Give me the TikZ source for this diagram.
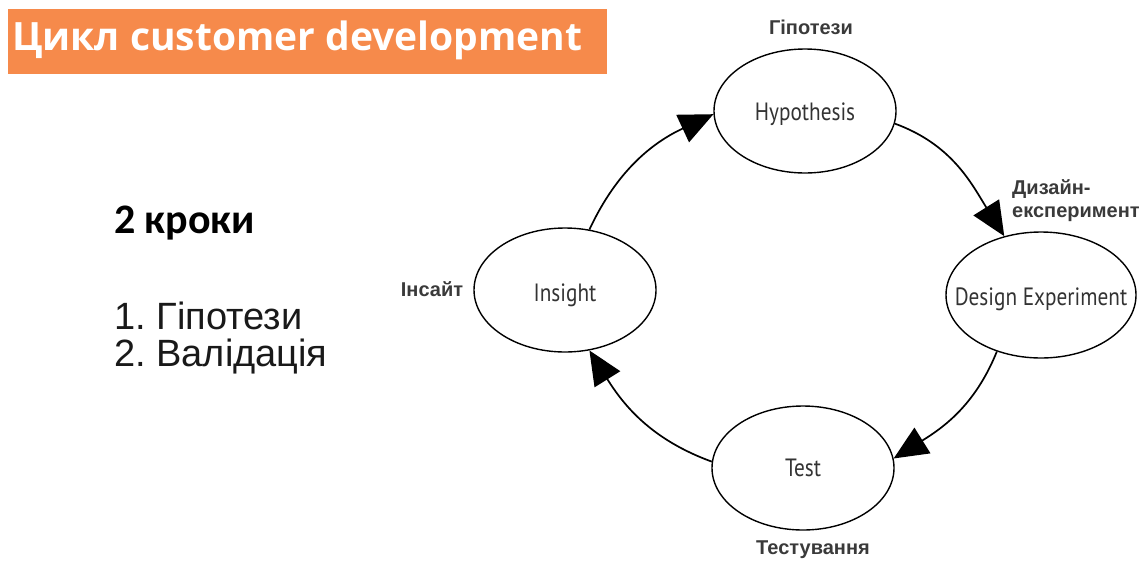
\documentclass[tikz,border=0pt]{standalone}
\usepackage{fontspec}
\usetikzlibrary{shapes.geometric,arrows.meta}
\setmainfont{Liberation Sans}
\newfontfamily\titlefont{Open Sans}
\newfontfamily\labelfont{Liberation Sans}
\newfontfamily\stepfont{Carlito}
\newfontfamily\ellfont[FakeStretch=0.85]{PT Sans}
\definecolor{barorange}{HTML}{F68A4B}
\definecolor{labgray}{HTML}{3A3A3A}
\definecolor{elltext}{HTML}{333333}
\tikzset{
  cyc/.style={ellipse, draw=black, line width=1.4pt, inner sep=0pt,
    minimum width=182pt, minimum height=124pt},
  cyctext/.style={font=\ellfont\fontsize{25}{27}\selectfont, text=elltext, inner sep=0pt},
  lab/.style={font=\labelfont\bfseries\fontsize{20}{23}\selectfont, text=labgray, inner sep=0pt},
  flow/.style={line width=1.7pt, -{Triangle[length=34pt,width=30pt]}}
}
\begin{document}
\begin{tikzpicture}[x=1pt,y=1pt]
\useasboundingbox[fill=white] (0,0) rectangle (1145,-563);
% title bar
\node[fill=barorange, minimum width=599pt, minimum height=65pt, inner sep=0pt, anchor=north west] (bar) at (8,-9) {};
\node[anchor=west, text=white, font=\titlefont\bfseries\fontsize{39}{42}\selectfont, inner sep=0pt] (title) at (12,-40) {Цикл customer development};
% left text
\node[anchor=base west, inner sep=0pt, font=\stepfont\bfseries\fontsize{42}{44}\selectfont, text=black] (steps) at (114,-233) {2 кроки};
\node[anchor=base west, inner sep=0pt, font=\fontsize{38}{36}\selectfont, text=black!90] (s1) at (114,-329) {1.~Гіпотези};
\node[anchor=base west, inner sep=0pt, font=\fontsize{38}{36}\selectfont, text=black!90] (s2) at (114,-366) {2.~Валідація};
% ellipses
\node[cyc] (hyp) at (805,-111) {};
\node[cyctext, yshift=-3pt] (hypt) at (hyp.center) {Hypothesis};
\node[cyc, minimum width=190pt, minimum height=126pt] (des) at (1041,-295) {};
\node[cyctext, yshift=-4pt] (dest) at (des.center) {Design Experiment};
\node[cyc] (ins) at (565,-290) {};
\node[cyctext, yshift=-5pt] (inst) at (ins.center) {Insight};
\node[cyc] (tst) at (803,-468) {};
\node[cyctext] (tstt) at (tst.center) {Test};
% labels
\node[lab] (lh) at (811,-27) {Гіпотези};
\node[lab, align=left, anchor=west] (ld) at (1012,-201) {Дизайн-\\експеримент};
\node[lab] (li) at (432,-289) {Інсайт};
\node[lab] (lt) at (813,-550) {Тестування};
% connectors
\draw[flow] (ins.68) to[out=65,in=205] (hyp.182);
\draw[flow] (hyp.-8) to[out=-20,in=122] (des.122);
\draw[flow] (des.232) to[out=-112,in=32] (tst.6);
\draw[flow] (tst.176) to[out=160,in=-58] (ins.-68);
\end{tikzpicture}
\end{document}
